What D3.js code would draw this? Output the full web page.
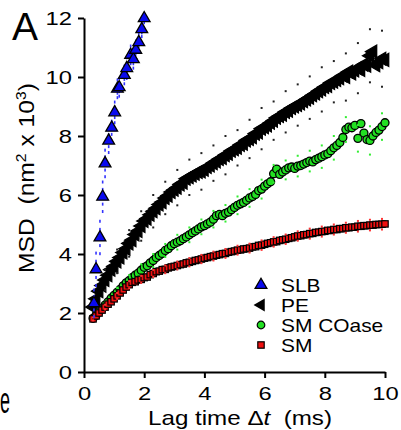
<!DOCTYPE html>
<html><head><meta charset="utf-8">
<script src="https://cdn.jsdelivr.net/npm/d3@7"></script>
<style>body{margin:0;background:#fff} svg{display:block}</style>
</head><body><svg id="c" width="401" height="430"></svg>
<script>
// ---------- data ----------
const lagTimes = [0.3,0.4,0.5,0.6,0.7,0.8,0.9,1.0,1.1,1.2,1.3,1.4,1.5,1.6,1.7,1.8,1.9,2.0,2.1,2.2,2.3,2.4,2.5,2.6,2.7,2.8,2.9,3.0,3.1,3.2,3.3,3.4,3.5,3.6,3.7,3.8,3.9,4.0,4.1,4.2,4.3,4.4,4.5,4.6,4.7,4.8,4.9,5.0,5.1,5.2,5.3,5.4,5.5,5.6,5.7,5.8,5.9,6.0,6.1,6.2,6.3,6.4,6.5,6.6,6.7,6.8,6.9,7.0,7.1,7.2,7.3,7.4,7.5,7.6,7.7,7.8,7.9,8.0,8.1,8.2,8.3,8.4,8.5,8.6,8.7,8.8,8.9,9.0,9.1,9.2,9.3,9.4,9.5,9.6,9.7,9.8,9.9,10.0];
const peMSD = [2.20,2.48,2.74,2.93,3.12,3.28,3.47,3.58,3.75,3.88,4.05,4.18,4.36,4.47,4.66,4.78,4.95,5.12,5.20,5.33,5.45,5.55,5.68,5.76,5.90,5.98,6.10,6.18,6.25,6.36,6.42,6.55,6.60,6.66,6.72,6.78,6.80,6.86,6.95,7.00,7.08,7.14,7.22,7.26,7.35,7.40,7.50,7.55,7.60,7.70,7.74,7.85,7.90,7.96,8.08,8.12,8.25,8.30,8.36,8.45,8.52,8.62,8.68,8.72,8.82,8.86,8.95,9.00,9.05,9.10,9.18,9.24,9.30,9.38,9.44,9.52,9.58,9.66,9.70,9.80,9.84,9.90,9.96,10.05,10.00,10.18,10.12,10.22,10.30,10.24,10.42,10.38,10.72,10.86,10.40,10.50,10.62,10.58];
const coaseMSD = [1.82,1.92,2.05,2.15,2.27,2.38,2.50,2.60,2.70,2.80,2.92,3.02,3.10,3.20,3.28,3.35,3.45,3.55,3.60,3.70,3.78,3.88,3.95,4.02,4.12,4.18,4.28,4.35,4.40,4.45,4.52,4.58,4.65,4.72,4.78,4.85,4.92,4.96,5.02,5.08,5.18,5.30,5.34,5.30,5.38,5.42,5.50,5.58,5.65,5.70,5.75,5.82,5.90,5.95,6.02,6.15,6.20,6.30,6.38,6.45,6.72,6.88,6.70,6.78,6.85,6.92,6.95,6.90,6.98,7.00,7.05,7.10,7.15,7.12,7.20,7.25,7.30,7.36,7.40,7.50,7.60,7.68,7.78,7.95,8.22,8.30,8.28,8.36,7.92,8.42,8.10,7.88,7.85,8.00,8.12,8.20,8.32,8.45];
const smMSD = [1.80,1.90,2.00,2.10,2.20,2.30,2.38,2.48,2.58,2.68,2.78,2.88,2.96,3.04,3.06,3.12,3.14,3.20,3.22,3.30,3.34,3.40,3.42,3.47,3.48,3.53,3.56,3.58,3.61,3.64,3.66,3.70,3.72,3.75,3.78,3.80,3.83,3.86,3.88,3.91,3.93,3.96,3.98,4.01,4.02,4.06,4.08,4.10,4.13,4.14,4.17,4.18,4.20,4.24,4.25,4.29,4.30,4.33,4.36,4.38,4.41,4.42,4.46,4.48,4.50,4.53,4.55,4.58,4.61,4.62,4.65,4.66,4.69,4.70,4.73,4.74,4.76,4.77,4.80,4.80,4.83,4.83,4.86,4.86,4.89,4.89,4.91,4.91,4.94,4.94,4.96,4.96,4.98,4.98,5.00,5.00,5.01,5.02];
const slbTimes = [0.33,0.40,0.53,0.62,0.70,0.82,0.92,1.02,1.11,1.17,1.34,1.42,1.55,1.64,1.72,1.82,1.92,2.00];
const slbMSD = [2.33,3.48,4.56,5.94,7.07,7.84,8.28,8.80,9.60,9.65,10.07,10.30,10.75,10.60,10.92,11.18,11.62,11.99];
const slbSD = [0.45,0.55,0.55,0.5,0.45,0.4,0.45,0.35,0.3,0.3,0.3,0.35,0.3,0.3,0.3,0.3,0.25,0.15];
// error values shown every 4th lag time (0.3, 0.7, 1.1, ... 9.9 ms)
const errTimes = [0.3,0.7,1.1,1.5,1.9,2.3,2.7,3.1,3.5,3.9,4.3,4.7,5.1,5.5,5.9,6.3,6.7,7.1,7.5,7.9,8.3,8.7,9.1,9.5,9.9];
const peSD = [0.25,0.35,0.4,0.45,0.5,0.55,0.55,0.6,0.6,0.62,0.6,0.65,0.6,0.65,0.7,0.65,0.7,0.7,0.72,0.75,0.7,0.8,0.85,0.9,0.95];
const coaseSD = [0.08,0.12,0.15,0.18,0.2,0.22,0.22,0.25,0.25,0.25,0.28,0.28,0.3,0.3,0.32,0.3,0.32,0.35,0.35,0.38,0.4,0.42,0.45,0.48,0.45];
const smSD = [0.05,0.08,0.1,0.12,0.12,0.12,0.13,0.13,0.14,0.14,0.15,0.15,0.15,0.15,0.16,0.16,0.16,0.16,0.17,0.17,0.17,0.17,0.18,0.18,0.18];
const xTicks = [0,2,4,6,8,10];
const yTicks = [0,2,4,6,8,10,12];
const legendLabels = ["SLB","PE","SM COase","SM"];

// ---------- drawing ----------
const svg = d3.select("#c");
const FONT = "'Liberation Sans', Arial, Helvetica, sans-serif";
const x = d3.scaleLinear().domain([0,10]).range([84,385]);
const y = d3.scaleLinear().domain([0,12]).range([372,18]);

function stretch(sel, k){
  sel.each(function(){
    const w = this.getComputedTextLength();
    this.setAttribute("textLength", w*k);
    this.setAttribute("lengthAdjust","spacingAndGlyphs");
  });
}

const plot = svg.append("g");
const triUp = d3.symbol().type(d3.symbolTriangle).size(60);
const triLeft = d3.symbol().type(d3.symbolTriangle).size(72);

function errDots(times, vals, sds, color, w, h){
  const pts = [];
  times.forEach((t,i)=>{
    const idx = lagTimes.findIndex(v=>Math.abs(v-t)<1e-6);
    const c = vals[idx];
    pts.push([t, c+sds[i]]); pts.push([t, c-sds[i]]);
  });
  plot.append("g").selectAll("rect").data(pts).join("rect")
    .attr("x", d=>x(d[0])-w/2).attr("y", d=>y(d[1])-h/2)
    .attr("width", w).attr("height", h).attr("fill", color);
}

// PE
plot.append("g").selectAll("path").data(lagTimes.map((t,i)=>[t,peMSD[i]])).join("path")
  .attr("d", triLeft)
  .attr("transform", d=>`translate(${x(d[0])},${y(d[1])}) rotate(-90)`)
  .attr("fill","#000").attr("stroke","#000").attr("stroke-width",1.3);
errDots(errTimes, peMSD, peSD, "#222", 2, 2);

// SM COase
plot.append("g").selectAll("circle").data(lagTimes.map((t,i)=>[t,coaseMSD[i]])).join("circle")
  .attr("cx", d=>x(d[0])).attr("cy", d=>y(d[1])).attr("r",4)
  .attr("fill","#22e022").attr("stroke","#000").attr("stroke-width",1.3);
errDots(errTimes, coaseMSD, coaseSD, "#33ee33", 2, 2);

// SM
plot.append("g").selectAll("rect").data(lagTimes.map((t,i)=>[t,smMSD[i]])).join("rect")
  .attr("x", d=>x(d[0])-3.2).attr("y", d=>y(d[1])-3.2).attr("width",6.4).attr("height",6.4)
  .attr("fill","#f01010").attr("stroke","#000").attr("stroke-width",1.2);
errDots(errTimes, smMSD, smSD, "#ff3333", 2, 2);

// SLB
const slbPts = slbTimes.map((t,i)=>[t,slbMSD[i],slbSD[i]]);
const slbErr = [];
slbPts.forEach(d=>{ [1,0.5,-0.5,-1].forEach(f=>slbErr.push([d[0], d[1]+f*d[2]])); });
plot.append("g").selectAll("rect").data(slbErr).join("rect")
  .attr("x", d=>x(d[0])-0.8).attr("y", d=>y(d[1])-1.5).attr("width",1.6).attr("height",3)
  .attr("fill","#3333ff");
plot.append("g").selectAll("path").data(slbPts).join("path")
  .attr("d", triUp)
  .attr("transform", d=>`translate(${x(d[0])},${y(d[1])})`)
  .attr("fill","#0a0aee").attr("stroke","#000").attr("stroke-width",1.3);

// axes
const yAxis = svg.append("g").attr("transform","translate(84,0)")
  .call(d3.axisLeft(y).tickValues(yTicks).tickSize(6).tickSizeOuter(0).tickPadding(6).tickFormat(d3.format("d")));
const xAxis = svg.append("g").attr("transform","translate(0,372)")
  .call(d3.axisBottom(x).tickValues(xTicks).tickSize(6).tickSizeOuter(0).tickPadding(9).tickFormat(d3.format("d")));
[yAxis,xAxis].forEach(a=>{
  a.selectAll("path,line").attr("stroke","#000").attr("stroke-width",2);
  a.selectAll("text").attr("font-family",FONT).attr("font-size",19).attr("fill","#000");
  stretch(a.selectAll("text"), 1.25);
});

// legend
const legSym = [
  g=>g.append("path").attr("d",triUp).attr("fill","#0a0aee").attr("stroke","#000").attr("stroke-width",1.3),
  g=>g.append("path").attr("d",triLeft).attr("transform","rotate(-90)").attr("fill","#000"),
  g=>g.append("circle").attr("r",3.8).attr("fill","#22e022").attr("stroke","#000").attr("stroke-width",1.2),
  g=>g.append("rect").attr("x",-3.2).attr("y",-3.2).attr("width",6.4).attr("height",6.4).attr("fill","#f01010").attr("stroke","#000").attr("stroke-width",1.2)
];
const leg = svg.append("g");
legendLabels.forEach((lab,i)=>{
  const g = leg.append("g").attr("transform",`translate(261,${285+i*20})`);
  legSym[i](g);
  const t = g.append("text").attr("x",20).attr("y",6.5).text(lab)
    .attr("font-family",FONT).attr("font-size",18.5).attr("fill","#000");
  stretch(t, 1.13);
});

// titles
const xt = svg.append("text").attr("x",240).attr("y",425).attr("text-anchor","middle")
  .attr("font-family",FONT).attr("font-size",21).attr("fill","#000");
xt.append("tspan").text("Lag time \u0394");
xt.append("tspan").attr("font-style","italic").text("t");
xt.append("tspan").text("\u00a0 (ms)");
stretch(xt, 1.15);

const yt = svg.append("text").attr("transform","translate(34,178) rotate(-90)").attr("text-anchor","middle")
  .attr("font-family",FONT).attr("font-size",22).attr("fill","#000");
yt.append("tspan").text("MSD \u00a0(nm");
yt.append("tspan").attr("font-size",14).attr("dy",-8).text("2");
yt.append("tspan").attr("dy",8).text(" x 10");
yt.append("tspan").attr("font-size",14).attr("dy",-8).text("3");
yt.append("tspan").attr("dy",8).text(")");
stretch(yt, 1.12);

svg.append("text").attr("x",12).attr("y",40).text("A")
  .attr("font-family",FONT).attr("font-size",39).attr("fill","#000");
svg.append("text").attr("x",0).attr("y",413).text("e")
  .attr("font-family",FONT).attr("font-size",36).attr("fill","#000")
  .attr("textLength",10).attr("lengthAdjust","spacingAndGlyphs");
</script></body></html>
